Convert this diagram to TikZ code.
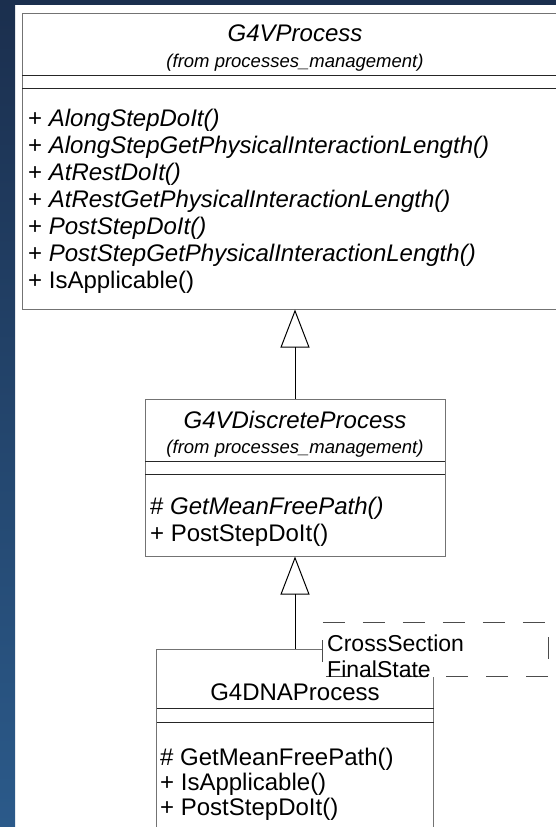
\documentclass[tikz,border=0pt]{standalone}
\usepackage{fontspec}
\setmainfont{Liberation Sans}
\usetikzlibrary{arrows.meta}
\definecolor{bgtop}{HTML}{1B2F4E}
\definecolor{bgbot}{HTML}{2B5A8A}

\begin{document}
\begin{tikzpicture}[x=1pt,y=-1pt,
  umlbox/.style={draw=black!55,line width=1pt,fill=white,inner sep=0pt},
  sep/.style={black!85,line width=1pt},
  cname/.style={font=\fontsize{24}{27}\selectfont\itshape,anchor=base,inner sep=0pt},
  pkg/.style={font=\fontsize{18.5}{20}\selectfont\itshape,anchor=base,inner sep=0pt},
  op/.style={font=\fontsize{24}{27}\selectfont,anchor=base west,inner sep=0pt},
  notedash/.style={black!70,line width=1pt,dash pattern=on 22pt off 18pt},
  inherit/.style={-{Triangle[open,length=38pt,width=29pt]},line width=1pt,black}]
\useasboundingbox (0,0) rectangle (556,827);
\clip (0,0) rectangle (556,827);
% background
\fill[white] (0,0) rectangle (556,827);
\shade[top color=bgtop,bottom color=bgbot] (0,0) rectangle (15,827);
\fill[bgtop] (0,0) rectangle (556,5);
% classes
\node[umlbox,minimum width=546,minimum height=296] (proc) at (295,161) {};
\node[umlbox,minimum width=300,minimum height=157] (disc) at (295,477.5) {};
\node[umlbox,minimum width=277,minimum height=200] (dna) at (295,749) {};
\draw[sep] (22,75) -- (568,75);
\draw[sep] (22,88) -- (568,88);
\draw[sep] (145,461) -- (445,461);
\draw[sep] (145,474) -- (445,474);
\draw[sep] (156.5,708) -- (433.5,708);
\draw[sep] (156.5,722) -- (433.5,722);
% G4VProcess
\node[cname] (proctitle) at (295,41) {G4VProcess};
\node[pkg] (procpkg) at (295,67) {(from processes\_management)};
\foreach \t [count=\i] in {+ \textit{AlongStepDoIt()},
  + \textit{AlongStepGetPhysicalInteractionLength()},
  + \textit{AtRestDoIt()},
  + \textit{AtRestGetPhysicalInteractionLength()},
  + \textit{PostStepDoIt()},
  + \textit{PostStepGetPhysicalInteractionLength()},
  + IsApplicable()}
  \node[op] (procop\i) at (28,{126+27*(\i-1)}) {\t};
% G4VDiscreteProcess
\node[cname] (disctitle) at (295,428) {G4VDiscreteProcess};
\node[pkg] (discpkg) at (295,453) {(from processes\_management)};
\node[op] (discop1) at (150,514) {\# \textit{GetMeanFreePath()}};
\node[op] (discop2) at (150,541) {+ PostStepDoIt()};
% G4DNAProcess
\node[cname,font=\fontsize{24}{27}\selectfont] (dnatitle) at (295,700) {G4DNAProcess};
\node[op] (dnaop1) at (160,765) {\# GetMeanFreePath()};
\node[op] (dnaop2) at (160,790) {+ IsApplicable()};
\node[op] (dnaop3) at (160,815) {+ PostStepDoIt()};
% inheritance
\draw[inherit] (disc.north) -- (proc.south);
\draw[inherit] (dna.north) -- (disc.south);
% template parameters
\node[fill=white,inner sep=0pt,minimum width=225,minimum height=54] (tmpl) at (435.5,649.7) {};
\draw[notedash] (tmpl.north west) -- (tmpl.north east) -- (tmpl.south east)
  -- (tmpl.south west) -- cycle;
\node[op,font=\fontsize{23}{26}\selectfont] (tmpl1) at (327,651) {CrossSection};
\node[op,font=\fontsize{23}{26}\selectfont] (tmpl2) at (327,677) {FinalState};
\end{tikzpicture}
\end{document}
